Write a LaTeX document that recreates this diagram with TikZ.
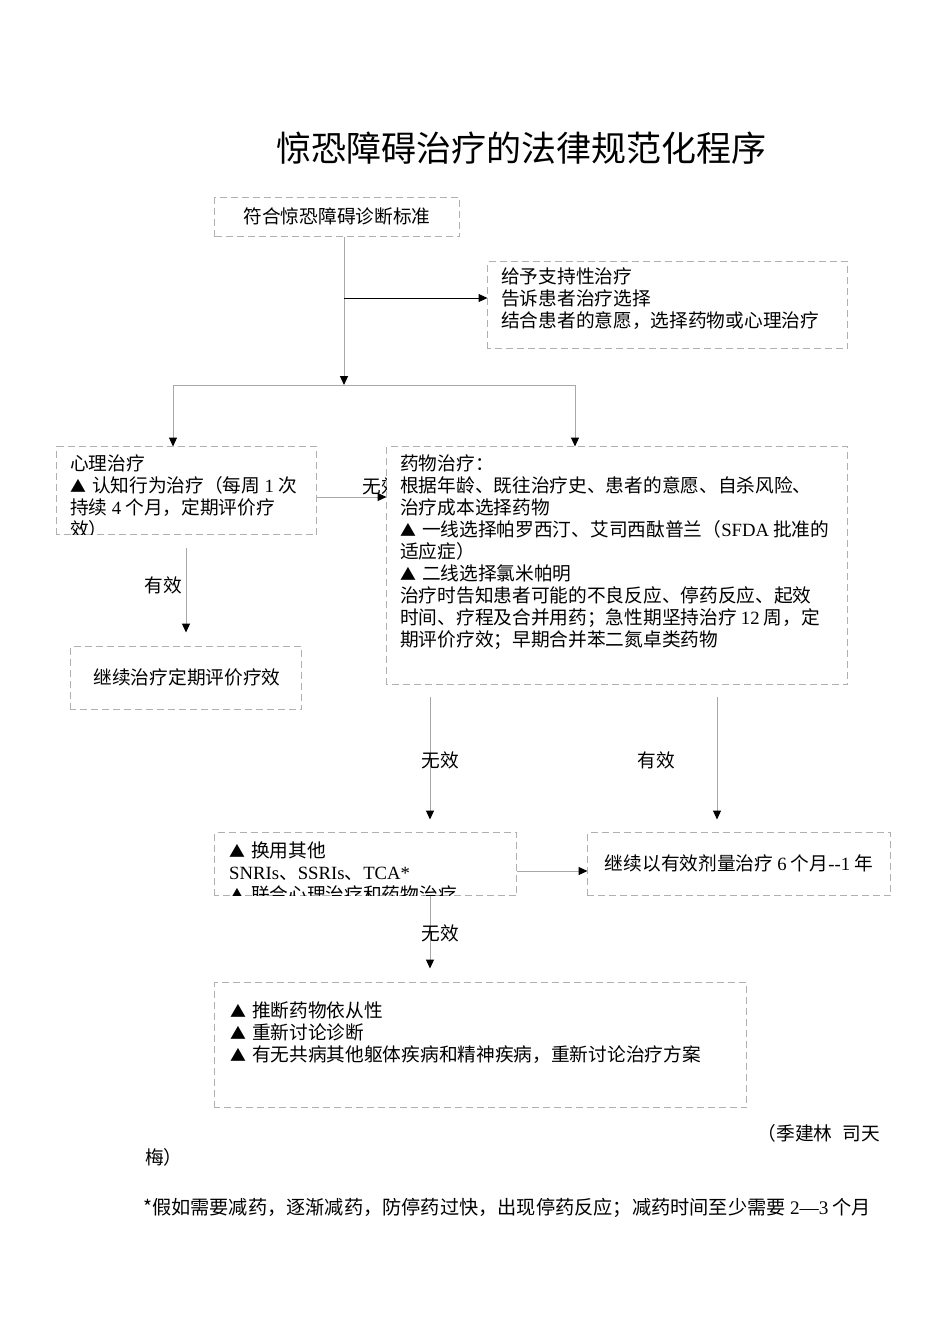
\documentclass[tikz,border=0pt]{standalone}
\usepackage{fontspec}
\usepackage{graphicx}
\setmainfont{Noto Sans CJK SC}
\newfontfamily\latf{Liberation Serif}
\newcommand{\ltn}[1]{{\latf #1}}
\newcommand{\tri}{\scalebox{0.85}{▲}\hspace{6pt}}
\usetikzlibrary{arrows.meta,calc}
\definecolor{boxgray}{RGB}{176,176,176}
\definecolor{linegray}{RGB}{168,168,168}
\tikzset{
  box/.style={draw=boxgray, dash pattern=on 7pt off 4pt, line width=1pt, fill=white, inner sep=0pt},
  conn/.style={draw=linegray, line width=1pt},
  darkconn/.style={draw=black, line width=1pt},
  arrowtip/.style={-{Triangle[length=9pt,width=8pt,color=black]}},
  txt/.style={inner sep=0pt, font=\fontsize{18.7pt}{22pt}\selectfont, align=left},
  lbl/.style={inner sep=0pt, font=\fontsize{18.7pt}{22pt}\selectfont},
  footlbl/.style={inner sep=0pt, font=\fontsize{19.2pt}{22pt}\selectfont},
}
\begin{document}
\begin{tikzpicture}[x=1pt,y=-1pt]
\path[use as bounding box, fill=white] (0,0) rectangle (950,1344);

% title
\node[inner sep=0pt, font=\fontsize{35pt}{40pt}\selectfont] (title) at (521,148) {惊恐障碍治疗的法律规范化程序};

% helper coordinates
\coordinate (split) at (344,385);
\coordinate (t1) at (344,298);
\coordinate (hl) at (173,385);
\coordinate (hr) at (575,385);
\coordinate (cd) at (0,497);
\coordinate (c430) at (430,0);
\coordinate (c717) at (717,0);
\coordinate (c871) at (0,871);

% box nodes (geometry only; drawn later)
\path
  node[box, draw=none, fill=none, minimum width=244pt, minimum height=38pt]  (A) at (337,217) {}
  node[box, draw=none, fill=none, minimum width=359pt, minimum height=86pt]  (B) at (667.5,305) {}
  node[box, draw=none, fill=none, minimum width=259pt, minimum height=87pt]  (C) at (186.5,490.5) {}
  node[box, draw=none, fill=none, minimum width=460pt, minimum height=237pt] (D) at (617,565.5) {}
  node[box, draw=none, fill=none, minimum width=230pt, minimum height=62pt]  (E) at (186,678) {}
  node[box, draw=none, fill=none, minimum width=301pt, minimum height=62pt]  (F) at (365.5,864) {}
  node[box, draw=none, fill=none, minimum width=302pt, minimum height=62pt]  (G) at (739,864) {}
  node[box, draw=none, fill=none, minimum width=531pt, minimum height=124pt] (H) at (480.5,1045) {};

% connectors
\draw[conn, arrowtip] (A.south -| split) -- (split);
\draw[darkconn, arrowtip] (t1) -- (t1 -| B.west);
\draw[conn] (hl) -- (hr);
\draw[conn, arrowtip] (hl) -- (hl |- C.north);
\draw[conn, arrowtip] (hr) -- (hr |- D.north);
\draw[conn, arrowtip] (C.east |- cd) -- (D.west |- cd);
\draw[conn, arrowtip, shorten <=13pt, shorten >=14pt] (C.south -| E.north) -- (E.north);
\draw[conn, arrowtip, shorten <=12pt, shorten >=13pt] (D.south -| c430) -- (F.north -| c430);
\draw[conn, arrowtip, shorten <=12pt, shorten >=13pt] (D.south -| c717) -- (G.north -| c717);
\draw[conn, arrowtip] (F.east |- c871) -- (G.west |- c871);
\draw[conn, arrowtip, shorten >=14pt] (F.south -| c430) -- (H.north -| c430);

% labels
\node[lbl] (l1) at (381,486) {无效};
\node[lbl] (l2) at (163,585) {有效};
\node[lbl] (l3) at (440,760) {无效};
\node[lbl] (l4) at (656,760) {有效};
\node[lbl] (l5) at (440,933) {无效};

% boxes drawn
\foreach \b in {A,B,C,D,E,F,G,H}{
  \path[box] (\b.south west) rectangle (\b.north east);
}

% box texts
\node[lbl] (At) at (337,216) {符合惊恐障碍诊断标准};
\node[txt, anchor=north west] (Bt) at (501,268) {给予支持性治疗\\告诉患者治疗选择\\结合患者的意愿，选择药物或心理治疗};
\begin{scope}
\clip (C.south west) rectangle (C.north east);
\node[txt, anchor=north west] (Ct) at (70,455) {心理治疗\\\tri 认知行为治疗（每周 \ltn{1} 次\\持续 \ltn{4} 个月，定期评价疗\\效）};
\end{scope}
\node[txt, anchor=north west] (Dt) at (400,455) {药物治疗：\\根据年龄、既往治疗史、患者的意愿、自杀风险、\\治疗成本选择药物\\\tri 一线选择帕罗西汀、艾司西酞普兰（\ltn{SFDA} 批准的\\适应症）\\\tri 二线选择氯米帕明\\治疗时告知患者可能的不良反应、停药反应、起效\\时间、疗程及合并用药；急性期坚持治疗 \ltn{12} 周，定\\期评价疗效；早期合并苯二氮卓类药物};
\node[lbl] (Et) at (187,677) {继续治疗定期评价疗效};
\begin{scope}
\clip (F.south west) rectangle (F.north east);
\node[txt, anchor=north west] (Ft) at (229,842) {\tri 换用其他\\\ltn{SNRIs}、\ltn{SSRIs}、\ltn{TCA*}\\\tri 联合心理治疗和药物治疗};
\end{scope}
\node[lbl] (Gt) at (739,863) {继续以有效剂量治疗 \ltn{6} 个月\ltn{-{}-1} 年};
\node[txt, anchor=north west] (Ht) at (230,1002) {\tri 推断药物依从性\\\tri 重新讨论诊断\\\tri 有无共病其他躯体疾病和精神疾病，重新讨论治疗方案};

% footer
\node[lbl, anchor=east] (auth) at (880,1133) {（季建林\hspace{10pt}司天};
\node[lbl, anchor=west] (auth2) at (145,1157) {梅）};
\node[footlbl, anchor=west] (foot) at (143,1208) {*假如需要减药，逐渐减药，防停药过快，出现停药反应；减药时间至少需要 \ltn{2—3} 个月};
\end{tikzpicture}
\end{document}
